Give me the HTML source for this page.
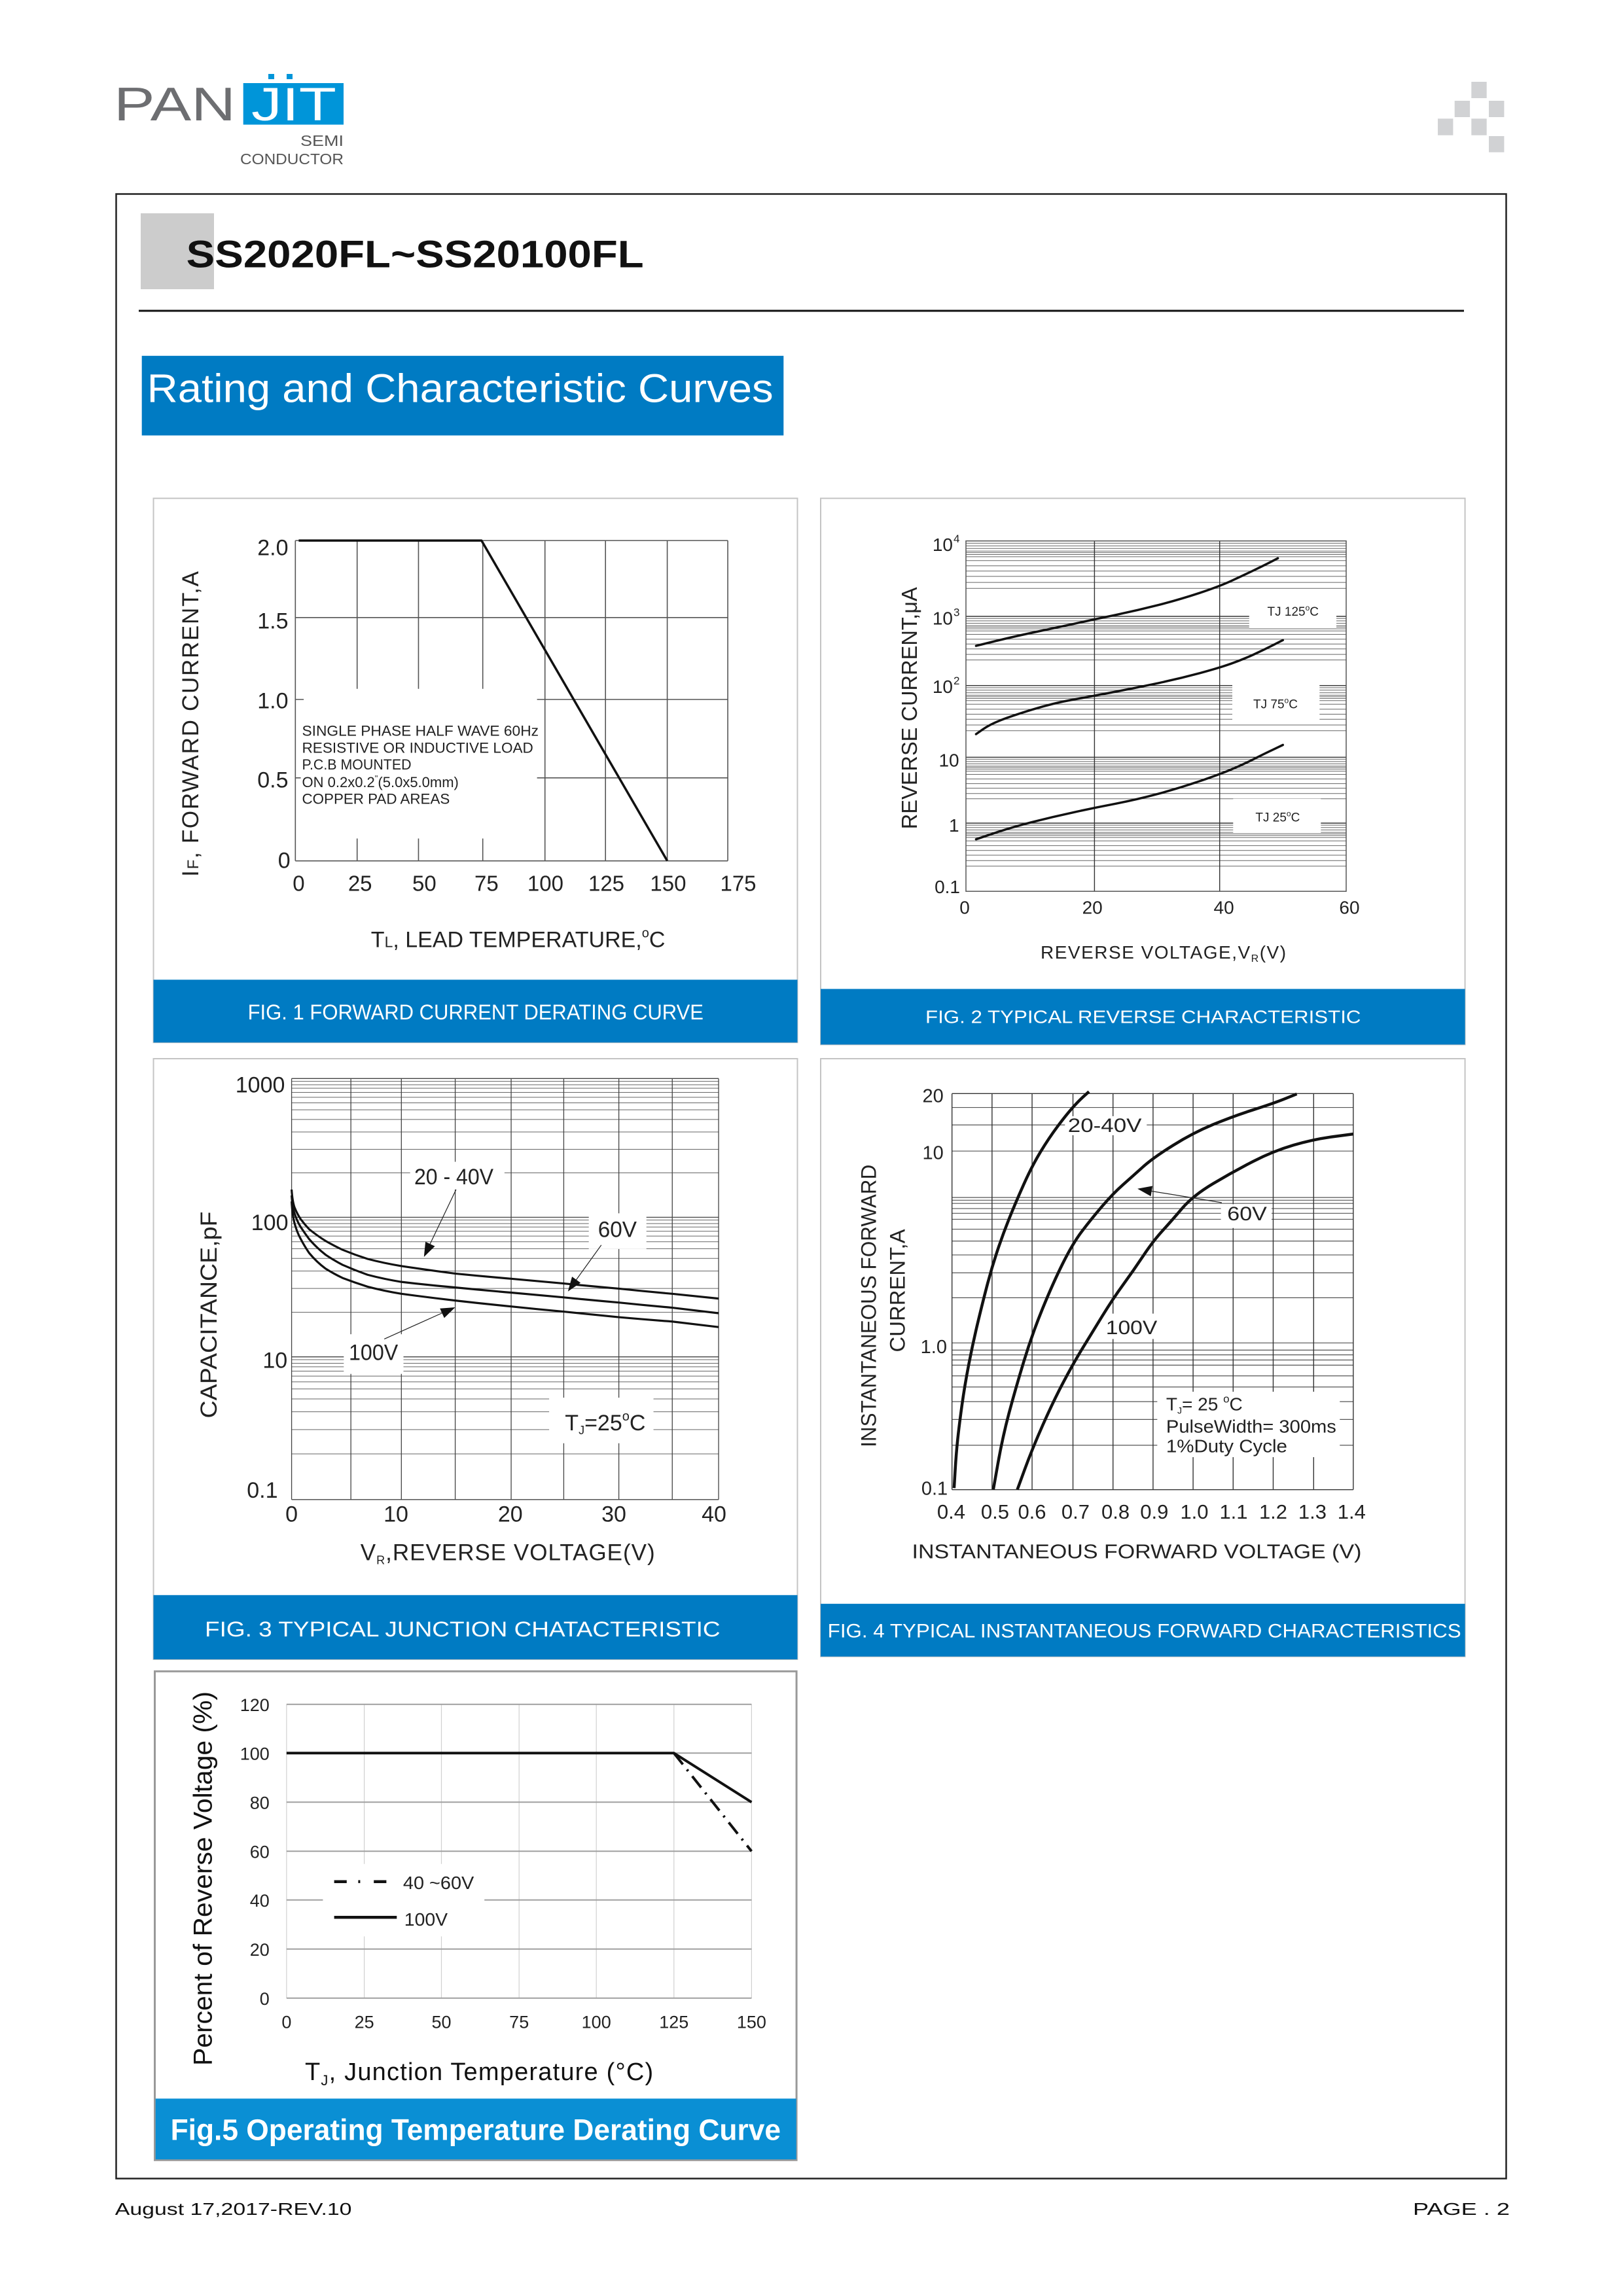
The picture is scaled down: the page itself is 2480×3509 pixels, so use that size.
<!DOCTYPE html>
<html><head><meta charset="utf-8"><style>html,body{margin:0;padding:0;background:#fff}svg{display:block}</style></head>
<body>
<svg width="2480" height="3509" viewBox="0 0 2480 3509" xmlns="http://www.w3.org/2000/svg" font-family="'Liberation Sans', Arial, sans-serif">
<rect width="2480" height="3509" fill="#fff"/>

<!-- ===== HEADER ===== -->
<text x="174" y="184" font-size="72" fill="#6d6e71" textLength="186" lengthAdjust="spacingAndGlyphs">PAN</text>
<rect x="371.7" y="127" width="153.3" height="63.5" fill="#0095d9"/>
<text x="384" y="184" font-size="71" fill="#fff" textLength="130" lengthAdjust="spacingAndGlyphs">JIT</text>
<rect x="410" y="113" width="9" height="8" fill="#0095d9"/>
<rect x="438" y="113" width="9" height="8" fill="#0095d9"/>
<text x="525" y="223" font-size="23" fill="#555" text-anchor="end" textLength="66" lengthAdjust="spacingAndGlyphs">SEMI</text>
<text x="367" y="251" font-size="23" fill="#555" textLength="158" lengthAdjust="spacingAndGlyphs">CONDUCTOR</text>
<g fill="#d1d2d4">
<rect x="2248.3" y="125" width="23.4" height="25"/>
<rect x="2222.7" y="154" width="23.4" height="25"/>
<rect x="2275" y="154" width="23.4" height="25"/>
<rect x="2197" y="181.3" width="23.4" height="25.4"/>
<rect x="2248.3" y="181.3" width="23.4" height="25.4"/>
<rect x="2275" y="208" width="23.4" height="24.7"/>
</g>

<!-- page border -->
<rect x="177.5" y="296.5" width="2124" height="3033" fill="none" stroke="#222" stroke-width="2.5"/>
<rect x="215" y="326" width="112" height="116" fill="#cccccc"/>
<text x="284.7" y="408.6" font-size="58" font-weight="bold" fill="#111" textLength="699" lengthAdjust="spacingAndGlyphs">SS2020FL~SS20100FL</text>
<line x1="212" y1="475" x2="2237" y2="475" stroke="#111" stroke-width="3"/>
<rect x="216.7" y="543.8" width="980.6" height="121.7" fill="#007bc3"/>
<text x="224.6" y="614.6" font-size="61" fill="#fff" textLength="957" lengthAdjust="spacingAndGlyphs">Rating  and  Characteristic  Curves</text>

<!-- ===== FIG 1 ===== -->
<rect x="234.5" y="761.6" width="984" height="831.6" fill="none" stroke="#c4c4c4" stroke-width="2"/>
<rect x="234.5" y="1497.3" width="984" height="96" fill="#007bc3"/>
<g transform="translate(230,760) scale(0.6378,0.5421)">
<path d="M347 122H1383 M347 339H1383 M347 570H367 M926 570H1383 M347 791H360 M926 791H1383 M347 1025H1383 M347 122V1025 M495 122V540 M495 962V1025 M642 122V540 M642 962V1025 M796 122V540 M796 962V1025 M945 122V1025 M1090 122V1025 M1238 122V1025 M1383 122V1025" stroke="#555" stroke-width="1.6" vector-effect="non-scaling-stroke" fill="none"/>
<polyline points="355,122 793,122 1238,1025" stroke="#111" stroke-width="3.5" vector-effect="non-scaling-stroke" fill="none" stroke-linejoin="round"/>
</g>
<g font-size="34" fill="#222" text-anchor="end">
<text x="440.5" y="848.4">2.0</text>
<text x="440.5" y="960.6">1.5</text>
<text x="440.5" y="1082.5">1.0</text>
<text x="440.5" y="1203.4">0.5</text>
<text x="443.7" y="1326.5">0</text>
</g>
<g font-size="33" fill="#222" text-anchor="middle">
<text x="456.4" y="1361.7">0</text>
<text x="550.2" y="1361.7">25</text>
<text x="648.4" y="1361.7">50</text>
<text x="743.4" y="1361.7">75</text>
<text x="833.4" y="1361.7">100</text>
<text x="926.5" y="1361.7">125</text>
<text x="1020.9" y="1361.7">150</text>
<text x="1128" y="1361.7">175</text>
</g>
<g font-size="22.5" fill="#222">
<text x="461.5" y="1124.3" textLength="361.5" lengthAdjust="spacingAndGlyphs">SINGLE PHASE HALF WAVE 60Hz</text>
<text x="461.5" y="1150.3" textLength="353.3" lengthAdjust="spacingAndGlyphs">RESISTIVE OR INDUCTIVE LOAD</text>
<text x="461.5" y="1175.8" textLength="167" lengthAdjust="spacingAndGlyphs">P.C.B MOUNTED</text>
<text x="461.5" y="1202.9" font-size="22">ON 0.2x0.2<tspan font-size="13" dy="-9">"</tspan><tspan dy="9">(5.0x5.0mm)</tspan></text>
<text x="461.5" y="1228.4" textLength="225.8" lengthAdjust="spacingAndGlyphs">COPPER PAD AREAS</text>
</g>
<text x="566.8" y="1447.4" font-size="34" fill="#222">T<tspan font-size="23">L</tspan>, LEAD  TEMPERATURE,<tspan font-size="20" dy="-15">o</tspan><tspan dy="15">C</tspan></text>
<text transform="translate(303,1105.6) rotate(-90)" text-anchor="middle" font-size="35" fill="#222" letter-spacing="1.7">I<tspan font-size="24">F</tspan>, FORWARD CURRENT,A</text>
<text x="378.6" y="1558" font-size="32" fill="#fff" textLength="696.4" lengthAdjust="spacingAndGlyphs">FIG. 1 FORWARD  CURRENT  DERATING CURVE</text>

<!-- ===== FIG 2 ===== -->
<rect x="1254" y="761.6" width="984.6" height="834.8" fill="none" stroke="#c4c4c4" stroke-width="2"/>
<rect x="1254" y="1511.4" width="984.6" height="85" fill="#007bc3"/>
<path d="M1476 830.2H2057M1476 834.2H2057M1476 838.2H2057M1476 842.3H2057M1476 844.6H2057M1476 847.5H2057M1476 850.9H2057M1476 856.7H2057M1476 864.8H2057M1476 872.8H2057M1476 880.9H2057M1476 890.1H2057M1476 899.3H2057
M1476 945.2H2057M1476 948.9H2057M1476 952.6H2057M1476 956.3H2057M1476 958.4H2057M1476 961H2057M1476 964.2H2057M1476 969.5H2057M1476 976.9H2057M1476 984.3H2057M1476 991.7H2057M1476 1000.1H2057M1476 1008.6H2057
M1476 1051H2057M1476 1054.8H2057M1476 1058.7H2057M1476 1062.5H2057M1476 1064.7H2057M1476 1067.4H2057M1476 1070.7H2057M1476 1076.2H2057M1476 1083.9H2057M1476 1091.5H2057M1476 1099.2H2057M1476 1108H2057M1476 1116.8H2057
M1476 1160.3H2057M1476 1163.9H2057M1476 1167.4H2057M1476 1170.9H2057M1476 1172.9H2057M1476 1175.4H2057M1476 1178.5H2057M1476 1183.5H2057M1476 1190.5H2057M1476 1197.6H2057M1476 1204.6H2057M1476 1212.7H2057M1476 1220.7H2057
M1476 1261.1H2057M1476 1264.8H2057M1476 1268.4H2057M1476 1272.1H2057M1476 1274.2H2057M1476 1276.8H2057M1476 1279.9H2057M1476 1285.1H2057M1476 1292.4H2057M1476 1299.7H2057M1476 1307H2057M1476 1315.3H2057M1476 1323.7H2057" stroke="#666" stroke-width="1" fill="none"/>
<path d="M1476 942H2057M1476 1047.7H2057M1476 1157.3H2057M1476 1258H2057M1672.4 826.7V1362.2M1863.7 826.7V1362.2" stroke="#333" stroke-width="1.4" fill="none"/>
<rect x="1476" y="826.7" width="581" height="535.5" fill="none" stroke="#555" stroke-width="1.5"/>
<rect x="1908.8" y="919" width="133.2" height="41" fill="#fff"/>
<rect x="1883" y="1045" width="133.3" height="55" fill="#fff"/>
<rect x="1884.3" y="1220.7" width="134" height="52.1" fill="#fff"/>
<g stroke="#111" stroke-width="3.5" fill="none" stroke-linejoin="round" stroke-linecap="round">
<path d="M1491.4 987.1 L1518.1 980.5 Q1544.8 973.9 1577 967 Q1609.3 960.2 1640.9 953.4 Q1672.4 946.5 1705.3 939.7 Q1738.1 932.8 1770.3 924.6 Q1802.5 916.3 1833.1 906.2 Q1863.7 896 1881.4 887.8 Q1899.1 879.6 1915.2 871.9 Q1931.3 864.2 1942 858.7 L1952.6 853.2"/>
<path d="M1491.4 1122 L1502 1114.6 Q1512.6 1107.2 1528.7 1100.9 Q1544.8 1094.5 1577 1084.6 Q1609.3 1074.6 1640.9 1069 Q1672.4 1063.3 1705.3 1057 Q1738.1 1050.7 1770.3 1043.9 Q1802.5 1037 1833.1 1028.8 Q1863.7 1020.5 1881.4 1014.2 Q1899.1 1007.9 1915.2 1000.5 Q1931.3 993.1 1945.8 985.7 L1960.3 978.3"/>
<path d="M1491.4 1282.7 L1518.1 1273.7 Q1544.8 1264.6 1577 1256.4 Q1609.3 1248.2 1640.9 1241.4 Q1672.4 1234.5 1705.3 1228.2 Q1738.1 1221.8 1770.3 1213.1 Q1802.5 1204.3 1833.1 1193.9 Q1863.7 1183.4 1881.4 1176 Q1899.1 1168.6 1915.2 1160.4 Q1931.3 1152.2 1945.8 1145.4 L1960.3 1138.5"/>
</g>
<g font-size="19" fill="#222">
<text x="1936.5" y="941">TJ 125<tspan font-size="12" dy="-8">o</tspan><tspan dy="8">C</tspan></text>
<text x="1915" y="1082.5">TJ 75<tspan font-size="12" dy="-8">o</tspan><tspan dy="8">C</tspan></text>
<text x="1918.4" y="1255.3">TJ 25<tspan font-size="12" dy="-8">o</tspan><tspan dy="8">C</tspan></text>
</g>
<g font-size="28" fill="#222">
<text x="1456" y="842" text-anchor="end">10</text><text x="1457" y="829" font-size="17">4</text>
<text x="1456" y="954.7" text-anchor="end">10</text><text x="1457" y="941.7" font-size="17">3</text>
<text x="1456" y="1059" text-anchor="end">10</text><text x="1457" y="1046" font-size="17">2</text>
<text x="1465.6" y="1171.4" text-anchor="end">10</text>
<text x="1465.6" y="1271" text-anchor="end">1</text>
<text x="1467" y="1365" text-anchor="end">0.1</text>
</g>
<g font-size="28" fill="#222" text-anchor="middle">
<text x="1474" y="1396.3">0</text>
<text x="1669.2" y="1396.3">20</text>
<text x="1870.1" y="1396.3">40</text>
<text x="2062" y="1396.3">60</text>
</g>
<text x="1590" y="1464.8" font-size="28" fill="#222" letter-spacing="1.5">REVERSE VOLTAGE,V<tspan font-size="16" dy="5">R</tspan><tspan dy="-5">(V)</tspan></text>
<text transform="translate(1401,1082.3) rotate(-90)" text-anchor="middle" font-size="33" fill="#222" textLength="370" lengthAdjust="spacingAndGlyphs">REVERSE  CURRENT,μA</text>
<text x="1414" y="1563.6" font-size="28" fill="#fff" textLength="665.5" lengthAdjust="spacingAndGlyphs">FIG. 2 TYPICAL  REVERSE  CHARACTERISTIC</text>

<!-- ===== FIG 3 ===== -->
<rect x="234.5" y="1618" width="984" height="918" fill="none" stroke="#c4c4c4" stroke-width="2"/>
<rect x="234.5" y="2437.8" width="984" height="98.2" fill="#007bc3"/>
<g transform="translate(230,1615) scale(0.6378,0.6059)">
<path d="M338 62H1361M338 70.8H1361M338 79.5H1361M338 90H1361M338 102.3H1361M338 116.3H1361M338 133.8H1361M338 158.3H1361M338 189.8H1361M338 233.5H1361M338 293H1361
M338 412H1361M338 420.8H1361M338 429.6H1361M338 440.2H1361M338 452.5H1361M338 466.6H1361M338 484.2H1361M338 508.8H1361M338 540.5H1361M338 584.5H1361M338 644.4H1361
M338 764.2H1361M338 773.2H1361M338 782.2H1361M338 793H1361M338 805.6H1361M338 820H1361M338 838H1361M338 863.2H1361M338 895.6H1361M338 940.6H1361M338 1001.8H1361" stroke="#666" stroke-width="1" vector-effect="non-scaling-stroke" fill="none"/>
<path d="M338 55H1361M338 405H1361M338 757H1361M338 1117H1361M338 55V1117M480 55V1117M601 55V1117M730 55V1117M864 55V1117M990 55V1117M1122 55V1117M1250 55V1117M1361 55V1117" stroke="#444" stroke-width="1.3" vector-effect="non-scaling-stroke" fill="none"/>
<rect x="622" y="265" width="226" height="70" fill="#fff"/>
<rect x="1050" y="395" width="138" height="90" fill="#fff"/>
<rect x="463" y="700" width="143" height="100" fill="#fff"/>
<rect x="955" y="860" width="250" height="115" fill="#fff"/>
<g stroke="#111" stroke-width="3.2" fill="none" stroke-linejoin="round">
<path vector-effect="non-scaling-stroke" d="M338 335 Q340 365 345 380 Q352 398 360 410 Q370 424 380 435 Q400 452 420 465 Q440 477 460 487 Q490 500 520 510 Q560 521 601 528 Q665 538 730 547 Q797 554 864 560 Q927 566 990 572 Q1056 579 1122 585 Q1186 592 1250 598 L1361 610"/>
<path vector-effect="non-scaling-stroke" d="M338 350 Q340 380 345 395 Q351 415 360 430 Q370 446 380 460 Q398 482 420 500 Q440 514 460 525 Q490 539 520 550 Q560 561 601 568 Q665 576 730 582 Q797 589 864 595 Q927 601 990 607 Q1056 614 1122 620 Q1186 627 1250 633 L1361 647"/>
<path vector-effect="non-scaling-stroke" d="M338 365 Q340 400 345 420 Q351 443 360 460 Q369 478 380 495 Q398 518 420 535 Q440 548 460 558 Q490 570 520 580 Q560 591 601 598 Q665 607 730 615 Q797 623 864 630 Q927 637 990 643 Q1056 650 1122 657 Q1186 663 1250 668 L1361 682"/>
</g>
</g>
<g stroke="#222" stroke-width="1.2">
<line x1="696.9" y1="1818" x2="652" y2="1912"/>
<line x1="918.8" y1="1902.8" x2="874" y2="1965"/>
<line x1="587.2" y1="2046.4" x2="686" y2="2002"/>
</g>
<g fill="#111">
<polygon points="647.8,1921 664.5,1904.6 650.1,1897.8"/>
<polygon points="867.8,1973.7 887.1,1960.5 874.1,1951.1"/>
<polygon points="695.6,1998 678.8,2014.3 672.2,1999.7"/>
</g>
<g font-size="34" fill="#222">
<text x="633" y="1810" textLength="121" lengthAdjust="spacingAndGlyphs">20 - 40V</text>
<text x="913.7" y="1890.7" textLength="59.3" lengthAdjust="spacingAndGlyphs">60V</text>
<text x="533" y="2078.5" textLength="75.2" lengthAdjust="spacingAndGlyphs">100V</text>
<text x="863.3" y="2185.8">T<tspan font-size="18" dy="6">J</tspan><tspan dy="-6">=25</tspan><tspan font-size="20" dy="-15">o</tspan><tspan dy="15">C</tspan></text>
</g>
<g font-size="34" fill="#222" text-anchor="end">
<text x="435.4" y="1669.5">1000</text>
<text x="440.5" y="1879.8">100</text>
<text x="439.2" y="2090.6">10</text>
<text x="424.5" y="2288.8">0.1</text>
</g>
<g font-size="34" fill="#222" text-anchor="middle">
<text x="445.6" y="2325.7">0</text>
<text x="605" y="2325.7">10</text>
<text x="779.8" y="2325.7">20</text>
<text x="938" y="2325.7">30</text>
<text x="1091" y="2325.7">40</text>
</g>
<text x="550.8" y="2384.5" font-size="35" fill="#222" letter-spacing="1">V<tspan font-size="18" dy="6">R</tspan><tspan dy="-6">,REVERSE  VOLTAGE(V)</tspan></text>
<text transform="translate(331,2009.5) rotate(-90)" text-anchor="middle" font-size="35" fill="#222" textLength="316" lengthAdjust="spacingAndGlyphs">CAPACITANCE,pF</text>
<text x="313" y="2500.8" font-size="32" fill="#fff" textLength="787.6" lengthAdjust="spacingAndGlyphs">FIG. 3  TYPICAL  JUNCTION CHATACTERISTIC</text>

<!-- ===== FIG 4 ===== -->
<rect x="1254" y="1618" width="984.6" height="913.7" fill="none" stroke="#c4c4c4" stroke-width="2"/>
<rect x="1254" y="2451.1" width="984.6" height="80.6" fill="#007bc3"/>
<g transform="translate(1255,1615) scale(0.6441,0.6059)">
<path d="M310 128H1262M310 172H1262M310 238H1262M310 355H1262M310 362H1262M310 370H1262M310 383H1262M310 395H1262M310 410H1262M310 435H1262M310 465H1262M310 500H1262M310 545H1262M310 608H1262M310 722H1262M310 740H1262M310 752H1262M310 765H1262M310 778H1262M310 805H1262M310 833H1262M310 870H1262M310 915H1262M310 980H1262" stroke="#555" stroke-width="1.2" vector-effect="non-scaling-stroke" fill="none"/>
<path d="M310 93H1262M310 1092H1262M310 93V1092M405 93V1092M500 93V1092M597 93V1092M692 93V1092M787 93V1092M882 93V1092M977 93V1092M1072 93V1092M1168 93V1092M1262 93V1092" stroke="#333" stroke-width="1.4" vector-effect="non-scaling-stroke" fill="none"/>
<rect x="578" y="150" width="194" height="48" fill="#fff"/>
<rect x="948" y="372" width="120" height="60" fill="#fff"/>
<rect x="668" y="648" width="132" height="64" fill="#fff"/>
<rect x="797" y="845" width="433" height="165" fill="#fff"/>
<g stroke="#111" stroke-width="4.5" fill="none" stroke-linejoin="round">
<path vector-effect="non-scaling-stroke" d="M315 1088 L317.5 1044 Q320 1000 323.5 965 Q327 930 333.5 880 Q340 830 350 775 Q360 720 372.5 665 Q385 610 395 570 Q405 530 417.5 490 Q430 450 445 410 Q460 370 480 322.5 Q500 275 520 240 Q540 205 560 176.5 Q580 148 595 130 Q610 112 622.5 100 L635 88"/>
<path vector-effect="non-scaling-stroke" d="M408 1092 L419 1026 Q430 960 445 900 Q460 840 480 770 Q500 700 525 635 Q550 570 573.5 520 Q597 470 618.5 440 Q640 410 666 377.5 Q692 345 716 322.5 Q740 300 763.5 277.5 Q787 255 834.5 223.5 Q882 192 929.5 171 Q977 150 1024.5 134 Q1072 118 1100 106 L1128 94"/>
<path vector-effect="non-scaling-stroke" d="M465 1092 L482.5 1041 Q500 990 525 930 Q550 870 573.5 822.5 Q597 775 618.5 737.5 Q640 700 666 655 Q692 610 716 575 Q740 540 763.5 502.5 Q787 465 808.5 440 Q830 415 856 382.5 Q882 350 929.5 320 Q977 290 1024.5 264 Q1072 238 1120 223 Q1168 208 1215 201.5 L1262 195"/>
</g>
</g>
<line x1="1866.9" y1="1838" x2="1748" y2="1818.5" stroke="#222" stroke-width="1.2"/>
<polygon points="1738.1,1816.8 1761.1,1812.5 1758.5,1828.3" fill="#111"/>
<g font-size="30" fill="#222">
<text x="1631.8" y="1730.1" textLength="112.7" lengthAdjust="spacingAndGlyphs">20-40V</text>
<text x="1875.3" y="1865.2" textLength="60.5" lengthAdjust="spacingAndGlyphs">60V</text>
<text x="1689.8" y="2039.1" textLength="78.5" lengthAdjust="spacingAndGlyphs">100V</text>
</g>
<g font-size="28" fill="#222">
<text x="1781.9" y="2155.5">T<tspan font-size="14" dy="5">J</tspan><tspan dy="-5">= 25 </tspan><tspan font-size="17" dy="-12">o</tspan><tspan dy="12">C</tspan></text>
<text x="1781.9" y="2189.4" textLength="260" lengthAdjust="spacingAndGlyphs">PulseWidth= 300ms</text>
<text x="1781.9" y="2219.7" textLength="185" lengthAdjust="spacingAndGlyphs">1%Duty Cycle</text>
</g>
<g font-size="29" fill="#222" text-anchor="end">
<text x="1441.8" y="1684.7">20</text>
<text x="1441.8" y="1771.3">10</text>
<text x="1447" y="2068.2">1.0</text>
<text x="1448.2" y="2284.5">0.1</text>
</g>
<g font-size="31" fill="#222" text-anchor="middle">
<text x="1453.4" y="2320.9">0.4</text>
<text x="1520.4" y="2320.9">0.5</text>
<text x="1577" y="2320.9">0.6</text>
<text x="1643.4" y="2320.9">0.7</text>
<text x="1704.6" y="2320.9">0.8</text>
<text x="1763.8" y="2320.9">0.9</text>
<text x="1825" y="2320.9">1.0</text>
<text x="1885" y="2320.9">1.1</text>
<text x="1945.5" y="2320.9">1.2</text>
<text x="2005.4" y="2320.9">1.3</text>
<text x="2065.3" y="2320.9">1.4</text>
</g>
<text x="1393.5" y="2381.5" font-size="31" fill="#222" textLength="687" lengthAdjust="spacingAndGlyphs">INSTANTANEOUS FORWARD VOLTAGE (V)</text>
<text transform="translate(1338.7,1995.8) rotate(-90)" text-anchor="middle" font-size="32" fill="#222" textLength="432" lengthAdjust="spacingAndGlyphs">INSTANTANEOUS FORWARD</text>
<text transform="translate(1382.5,1972.5) rotate(-90)" text-anchor="middle" font-size="32" fill="#222" textLength="188" lengthAdjust="spacingAndGlyphs">CURRENT,A</text>
<text x="1264.7" y="2502.6" font-size="29.6" fill="#fff" textLength="968" lengthAdjust="spacingAndGlyphs">FIG. 4  TYPICAL  INSTANTANEOUS  FORWARD  CHARACTERISTICS</text>

<!-- ===== FIG 5 ===== -->
<rect x="236.5" y="2554.3" width="980.6" height="747" fill="none" stroke="#999" stroke-width="3"/>
<rect x="237.7" y="3207.3" width="979" height="92.9" fill="#0a8fd4"/>
<path d="M437.9 2604.8V3053.8M556.6 2604.8V3053.8M674.5 2604.8V3053.8M793.2 2604.8V3053.8M911.2 2604.8V3053.8M1029.8 2604.8V3053.8M1148.4 2604.8V3053.8" stroke="#d0d0d0" stroke-width="1.2" fill="none"/>
<path d="M437.9 2604.8H1148.4M437.9 2679.3H1148.4M437.9 2754.3H1148.4M437.9 2829.3H1148.4M437.9 2903.8H1148.4M437.9 2978.8H1148.4M437.9 3053.8H1148.4" stroke="#a0a0a0" stroke-width="2" fill="none"/>
<rect x="493.4" y="2848.7" width="246.8" height="110.7" fill="#fff"/>
<polyline points="437.9,2679.3 1029.8,2679.3 1148.4,2754.3" stroke="#111" stroke-width="4" fill="none" stroke-linejoin="round"/>
<line x1="1029.8" y1="2679.3" x2="1148.4" y2="2829.3" stroke="#111" stroke-width="4" stroke-dasharray="22 10 3 10"/>
<line x1="510.6" y1="2875.7" x2="529.8" y2="2875.7" stroke="#111" stroke-width="4.5"/>
<line x1="547.4" y1="2875.7" x2="550.4" y2="2875.7" stroke="#111" stroke-width="4.5"/>
<line x1="571.2" y1="2875.7" x2="590.4" y2="2875.7" stroke="#111" stroke-width="4.5"/>
<line x1="510.6" y1="2930.3" x2="606.3" y2="2930.3" stroke="#111" stroke-width="4.5"/>
<g font-size="28" fill="#222">
<text x="615.9" y="2886.9" textLength="108.4" lengthAdjust="spacingAndGlyphs">40 ~60V</text>
<text x="617.8" y="2943" textLength="66.3" lengthAdjust="spacingAndGlyphs">100V</text>
</g>
<g font-size="27" fill="#222" text-anchor="end">
<text x="411.8" y="2615">120</text>
<text x="411.8" y="2689.5">100</text>
<text x="411.8" y="2764.5">80</text>
<text x="411.8" y="2839.5">60</text>
<text x="411.8" y="2914">40</text>
<text x="411.8" y="2989">20</text>
<text x="411.8" y="3064">0</text>
</g>
<g font-size="27" fill="#222" text-anchor="middle">
<text x="437.9" y="3099.7">0</text>
<text x="556.6" y="3099.7">25</text>
<text x="674.5" y="3099.7">50</text>
<text x="793.2" y="3099.7">75</text>
<text x="911.2" y="3099.7">100</text>
<text x="1029.8" y="3099.7">125</text>
<text x="1148.4" y="3099.7">150</text>
</g>
<text x="466" y="3178.8" font-size="38" fill="#111" letter-spacing="1.2">T<tspan font-size="22" dy="8">J</tspan><tspan dy="-8">, Junction Temperature  (°C)</tspan></text>
<text transform="translate(323.6,2871) rotate(-90)" text-anchor="middle" font-size="40" fill="#111" textLength="572" lengthAdjust="spacingAndGlyphs">Percent of Reverse Voltage (%)</text>
<text x="260.6" y="3270.6" font-size="45" font-weight="bold" fill="#fff" textLength="932.4" lengthAdjust="spacingAndGlyphs">Fig.5 Operating Temperature Derating Curve</text>

<!-- ===== FOOTER ===== -->
<text x="175.8" y="3385" font-size="26" fill="#111" textLength="361.7" lengthAdjust="spacingAndGlyphs">August 17,2017-REV.10</text>
<text x="2159" y="3385" font-size="26" fill="#111" textLength="148" lengthAdjust="spacingAndGlyphs">PAGE . 2</text>
</svg>
</body></html>
